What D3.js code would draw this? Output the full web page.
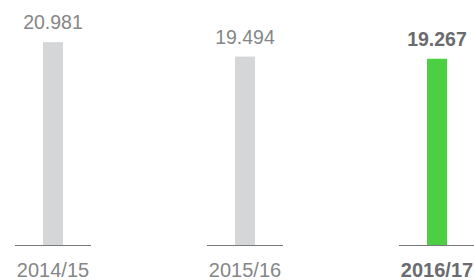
<!DOCTYPE html>
<html>
<head>
	<meta charset="utf-8">
	<title>Bars</title>
	<style type="text/css">
		html, body {
			margin: 0;
			padding: 0;
			background-color: #fff;
		}
		svg text {
			font-family: "Liberation Sans", Arial, Helvetica, sans-serif;
		}
	</style>
</head>
<body>
	<div id="chart"></div>
	<script src="https://unpkg.com/d3@7.0.1/dist/d3.min.js"></script>
	<script type="text/javascript">
		const seasons = ['2014/15', '2015/16', '2016/17'];
		const values = [20.981, 19.494, 19.267];
		const valueLabels = ['20.981', '19.494', '19.267'];
		const highlight = [false, false, true];

		const width = 474;
		const height = 280;

		const svg = d3.select('#chart')
			.append('svg')
			.attr('width', width)
			.attr('height', height);

		const x = d3.scalePoint()
			.domain(seasons)
			.range([53, 437]);

		const y = d3.scaleLinear()
			.domain([0, 21])
			.range([245, 42]);

		const barWidth = 20;
		const lineWidth = 76;

		const groups = svg.selectAll('g.col')
			.data(seasons)
			.enter()
			.append('g')
			.attr('class', 'col');

		groups.append('rect')
			.attr('x', d => x(d) - barWidth / 2)
			.attr('y', (d, i) => y(values[i]))
			.attr('width', barWidth)
			.attr('height', (d, i) => y(0) - y(values[i]))
			.attr('fill', (d, i) => highlight[i] ? '#4ccf42' : '#d5d6d8');

		groups.append('line')
			.attr('x1', d => x(d) - lineWidth / 2)
			.attr('x2', d => x(d) + lineWidth / 2)
			.attr('y1', y(0) + 0.5)
			.attr('y2', y(0) + 0.5)
			.attr('stroke', '#77787b')
			.attr('stroke-width', 1);

		groups.append('text')
			.attr('x', d => x(d))
			.attr('y', (d, i) => y(values[i]) - 13)
			.attr('text-anchor', 'middle')
			.attr('font-size', '19.5px')
			.attr('font-weight', (d, i) => highlight[i] ? 'bold' : 'normal')
			.attr('fill', (d, i) => highlight[i] ? '#6a6b6e' : '#858689')
			.text((d, i) => valueLabels[i]);

		// category labels sit at the very bottom edge, keep them just inside
		groups.append('text')
			.attr('x', d => x(d))
			.attr('y', 277)
			.attr('text-anchor', 'middle')
			.attr('font-size', '20px')
			.attr('font-weight', (d, i) => highlight[i] ? 'bold' : 'normal')
			.attr('fill', (d, i) => highlight[i] ? '#6a6b6e' : '#858689')
			.text(d => d);
	</script>
</body>
</html>
